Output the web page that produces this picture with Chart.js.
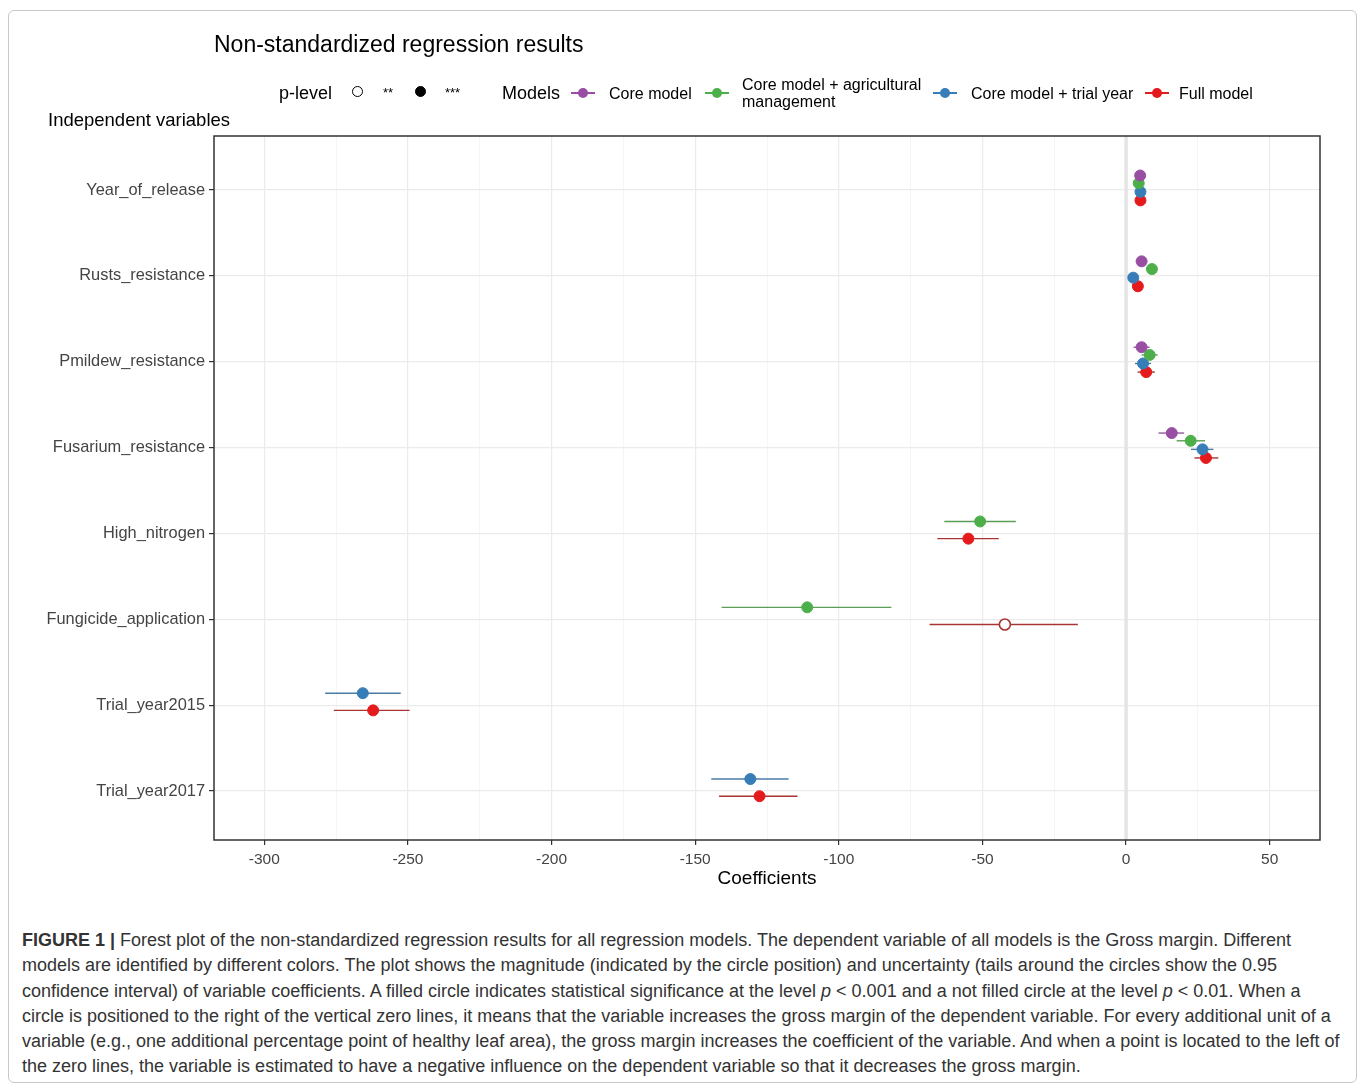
<!DOCTYPE html>
<html>
<head>
<meta charset="utf-8">
<script src="https://cdn.jsdelivr.net/npm/chart.js@4.4.1/dist/chart.umd.min.js"></script>
<style>
  body { margin: 0; background: #fff; font-family: "Liberation Sans", Arial, sans-serif; }
  #page { position: relative; width: 1360px; height: 1085px; overflow: hidden; }
  #frame { position: absolute; left: 8px; top: 10px; width: 1347px; height: 1071px; border: 1px solid #c8c8c8; border-radius: 6px; }
  #chart { position: absolute; left: 0; top: 0; }
  .txt { position: absolute; white-space: nowrap; line-height: 1; color: #000; }
  .key { position: absolute; width: 24px; height: 2px; }
  .key span { position: absolute; left: 7px; top: -4px; width: 10px; height: 10px; border-radius: 50%; }
  .dot { position: absolute; width: 9px; height: 9px; border-radius: 50%; border: 1.5px solid #000; }
  #caption { position: absolute; left: 22px; top: 928px; font-size: 18px; line-height: 25.3px; color: #333; white-space: nowrap; }
</style>
</head>
<body>
<div id="page">
  <div id="frame"></div>
  <canvas id="chart" width="1360" height="890"></canvas>

  <div class="txt" style="left:214px; top:33px; font-size:23px;">Non-standardized regression results</div>
  <div class="txt" style="left:48px; top:111px; font-size:18.5px;">Independent variables</div>

  <div class="txt" style="left:279px; top:84px; font-size:18px;">p-level</div>
  <div class="dot" style="left:352px; top:86px; background:#fff;"></div>
  <div class="txt" style="left:383px; top:86px; font-size:13px;">**</div>
  <div class="dot" style="left:415px; top:86px; background:#000;"></div>
  <div class="txt" style="left:445px; top:86px; font-size:13px;">***</div>

  <div class="txt" style="left:502px; top:84px; font-size:18px;">Models</div>
  <div class="key" style="left:571px; top:92px; background:#984ea3;"><span style="background:#984ea3;"></span></div>
  <div class="txt" style="left:609px; top:86px; font-size:16px;">Core model</div>
  <div class="key" style="left:705px; top:92px; background:#4daf4a;"><span style="background:#4daf4a;"></span></div>
  <div class="txt" style="left:742px; top:77px; font-size:16px;">Core model + agricultural</div>
  <div class="txt" style="left:742px; top:94px; font-size:16px;">management</div>
  <div class="key" style="left:933px; top:92px; background:#377eb8;"><span style="background:#377eb8;"></span></div>
  <div class="txt" style="left:971px; top:86px; font-size:16px;">Core model + trial year</div>
  <div class="key" style="left:1145px; top:92px; background:#e41a1c;"><span style="background:#e41a1c;"></span></div>
  <div class="txt" style="left:1179px; top:86px; font-size:16px;">Full model</div>

  <div id="caption"><b>FIGURE 1 |</b> Forest plot of the non-standardized regression results for all regression models. The dependent variable of all models is the Gross margin. Different<br>models are identified by different colors. The plot shows the magnitude (indicated by the circle position) and uncertainty (tails around the circles show the 0.95<br>confidence interval) of variable coefficients. A filled circle indicates statistical significance at the level <i>p</i> &lt; 0.001 and a not filled circle at the level <i>p</i> &lt; 0.01. When a<br>circle is positioned to the right of the vertical zero lines, it means that the variable increases the gross margin of the dependent variable. For every additional unit of a<br>variable (e.g., one additional percentage point of healthy leaf area), the gross margin increases the coefficient of the variable. And when a point is located to the left of<br>the zero lines, the variable is estimated to have a negative influence on the dependent variable so that it decreases the gross margin.</div>
</div>

<script>
const categories = ['Year_of_release', 'Rusts_resistance', 'Pmildew_resistance', 'Fusarium_resistance',
  'High_nitrogen', 'Fungicide_application', 'Trial_year2015', 'Trial_year2017'];

const modelNames = ['Core model', 'Core model + agricultural management', 'Core model + trial year', 'Full model'];

// estimates and 0.95 confidence limits, null = variable not in that model
const coreEst  = [4.9, 5.4, 5.4, 15.9, null, null, null, null];
const coreLow  = [4.1, 4.5, 2.6, 11.3, null, null, null, null];
const coreHigh = [5.7, 6.3, 8.2, 20.2, null, null, null, null];
const coreSig  = ['***', '***', '***', '***', null, null, null, null];

const agriEst  = [4.4, 9.0, 8.2, 22.5, -50.8, -111.0, null, null];
const agriLow  = [3.6, 8.0, 5.4, 17.6, -63.3, -140.8, null, null];
const agriHigh = [5.2, 10.0, 11.0, 27.5, -38.4, -81.7, null, null];
const agriSig  = ['***', '***', '***', '***', '***', '***', null, null];

const trialEst  = [5.0, 2.5, 5.9, 26.6, null, null, -265.7, -130.8];
const trialLow  = [4.2, 1.5, 3.1, 22.6, null, null, -278.8, -144.4];
const trialHigh = [5.8, 3.5, 8.7, 30.4, null, null, -252.5, -117.5];
const trialSig  = ['***', '***', '***', '***', null, null, '***', '***'];

const fullEst  = [5.0, 4.1, 7.0, 27.8, -54.9, -42.2, -262.1, -127.6];
const fullLow  = [4.2, 3.1, 4.0, 23.8, -65.7, -68.4, -275.8, -141.7];
const fullHigh = [5.8, 5.1, 10.0, 32.1, -44.3, -16.8, -249.4, -114.4];
const fullSig  = ['***', '***', '***', '***', '***', '**', '***', '***'];

const xTickLabels = [-300, -250, -200, -150, -100, -50, 0, 50];
const xGridValues = [-300, -275, -250, -225, -200, -175, -150, -125, -100, -75, -50, -25, 0, 25, 50];

const pointColors = ['#984ea3', '#4daf4a', '#377eb8', '#e41a1c'];
const lineColors = ['#8f5a98', '#5a9e55', '#4a7ba6', '#a83434'];

const est = [coreEst, agriEst, trialEst, fullEst];
const low = [coreLow, agriLow, trialLow, fullLow];
const high = [coreHigh, agriHigh, trialHigh, fullHigh];
const sig = [coreSig, agriSig, trialSig, fullSig];

// vertical dodge inside a category, depends on how many models have the variable
const dodge = { 4: [-0.17, -0.08, 0.02, 0.12], 2: [-0.14, 0.06] };

function buildPoints(m) {
  const pts = [];
  categories.forEach((c, i) => {
    if (est[m][i] === null) return;
    const present = est.map((e, k) => e[i] !== null ? k : -1).filter(k => k >= 0);
    const rank = present.indexOf(m);
    pts.push({ x: est[m][i], y: i + dodge[present.length][rank], lo: low[m][i], hi: high[m][i], sig: sig[m][i] });
  });
  return pts;
}

const datasets = modelNames.map((name, m) => {
  const pts = buildPoints(m);
  return {
    label: name,
    data: pts,
    pointRadius: 5.5,
    pointBorderWidth: pts.map(p => p.sig === '**' ? 1.6 : 1),
    pointBackgroundColor: pts.map(p => p.sig === '**' ? '#ffffff' : pointColors[m]),
    pointBorderColor: pts.map(p => p.sig === '**' ? lineColors[m] : pointColors[m]),
    whiskerColor: lineColors[m],
    showLine: false
  };
});

const forestExtras = {
  id: 'forestExtras',
  beforeDatasetsDraw(chart) {
    const { ctx, chartArea, scales: { x, y } } = chart;
    ctx.save();
    // zero line
    ctx.strokeStyle = '#e4e4e4';
    ctx.lineWidth = 3.5;
    ctx.beginPath();
    ctx.moveTo(x.getPixelForValue(0), chartArea.top);
    ctx.lineTo(x.getPixelForValue(0), chartArea.bottom);
    ctx.stroke();
    // confidence intervals
    chart.data.datasets.forEach(ds => {
      ctx.strokeStyle = ds.whiskerColor;
      ctx.lineWidth = 1.4;
      ds.data.forEach(p => {
        const py = y.getPixelForValue(p.y);
        ctx.beginPath();
        ctx.moveTo(x.getPixelForValue(p.lo), py);
        ctx.lineTo(x.getPixelForValue(p.hi), py);
        ctx.stroke();
      });
    });
    ctx.restore();
  },
  afterDraw(chart) {
    const { ctx, chartArea } = chart;
    ctx.save();
    ctx.strokeStyle = '#333';
    ctx.lineWidth = 1.5;
    ctx.strokeRect(chartArea.left, chartArea.top, chartArea.right - chartArea.left, chartArea.bottom - chartArea.top);
    ctx.restore();
  }
};

new Chart(document.getElementById('chart'), {
  type: 'scatter',
  data: { datasets: datasets },
  plugins: [forestExtras],
  options: {
    responsive: false,
    animation: false,
    layout: { padding: { top: 136, right: 40, left: 0, bottom: 0 } },
    plugins: { legend: { display: false }, tooltip: { enabled: false } },
    scales: {
      x: {
        type: 'linear',
        min: -317.5,
        max: 67.5,
        afterBuildTicks: s => { s.ticks = xGridValues.map(v => ({ value: v })); },
        afterFit: s => { s.height = 50; },
        ticks: {
          autoSkip: false,
          maxRotation: 0,
          padding: 5,
          color: '#444',
          font: { family: '"Liberation Sans", Arial, sans-serif', size: 15.5 },
          callback: v => xTickLabels.includes(v) ? String(v) : ''
        },
        grid: {
          color: c => c.tick && xTickLabels.includes(c.tick.value) ? '#ebebeb' : '#f3f3f3',
          lineWidth: c => c.tick && xTickLabels.includes(c.tick.value) ? 1.2 : 0.8,
          tickColor: c => c.tick && xTickLabels.includes(c.tick.value) ? '#333' : 'rgba(0,0,0,0)',
          tickLength: 5
        },
        border: { display: false },
        title: {
          display: true,
          text: 'Coefficients',
          color: '#000',
          padding: 0,
          font: { family: '"Liberation Sans", Arial, sans-serif', size: 19 }
        }
      },
      y: {
        type: 'linear',
        reverse: true,
        min: -0.63,
        max: 7.57,
        afterBuildTicks: s => { s.ticks = categories.map((c, i) => ({ value: i })); },
        afterFit: s => { s.width = 214; },
        ticks: {
          autoSkip: false,
          padding: 4,
          color: '#444',
          font: { family: '"Liberation Sans", Arial, sans-serif', size: 16.4 },
          callback: v => categories[v]
        },
        grid: { color: '#ebebeb', lineWidth: 1.2, tickColor: '#333', tickLength: 5 },
        border: { display: false }
      }
    }
  }
});
</script>
</body>
</html>
